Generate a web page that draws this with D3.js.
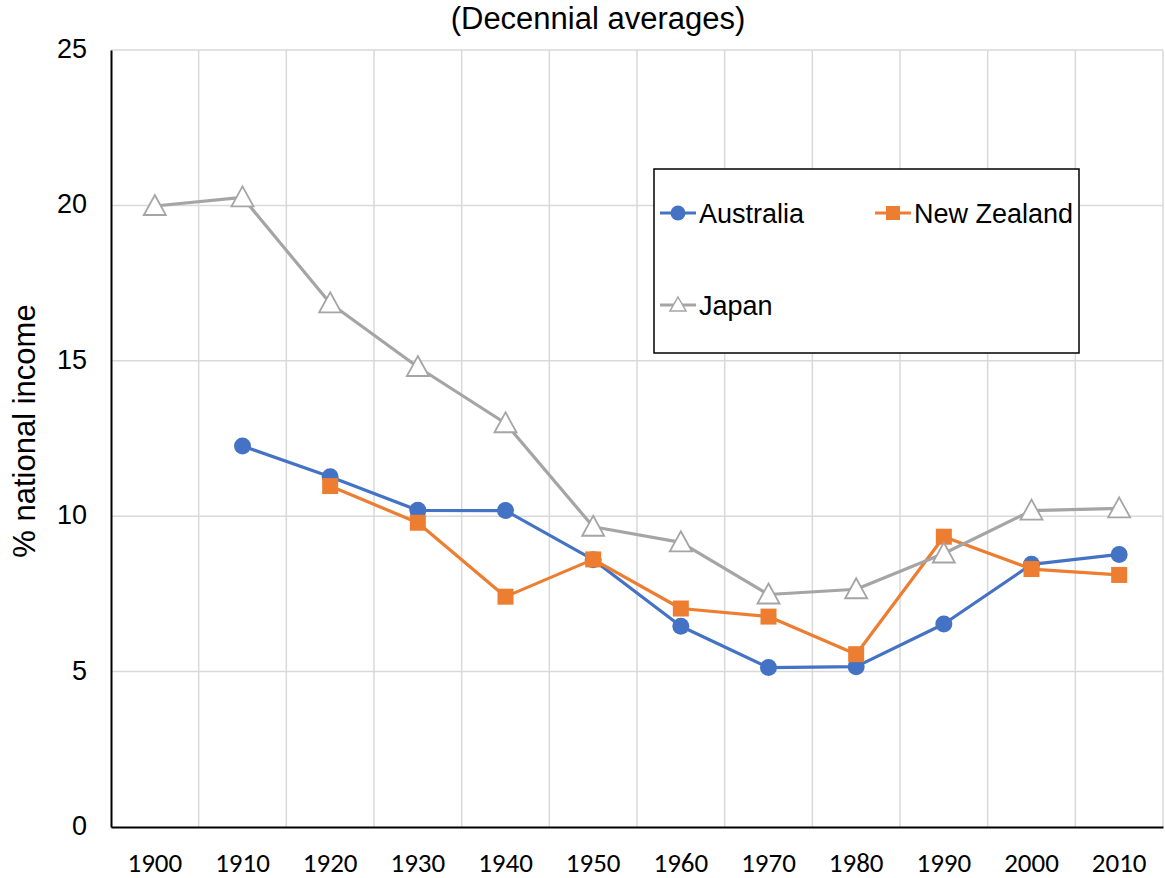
<!DOCTYPE html>
<html>
<head>
<meta charset="utf-8">
<script src="https://cdn.jsdelivr.net/npm/d3@7"></script>
<style>
  html, body { margin: 0; padding: 0; background: #fff; }
  svg { display: block; }
</style>
</head>
<body>
<svg id="chart" width="1165" height="878"></svg>
<script>
const decades = ["1900","1910","1920","1930","1940","1950","1960","1970","1980","1990","2000","2010"];
const australia = [null, 12.26, 11.27, 10.19, 10.18, 8.60, 6.46, 5.13, 5.16, 6.53, 8.45, 8.77];
const newZealand = [null, null, 10.97, 9.79, 7.41, 8.61, 7.03, 6.77, 5.56, 9.34, 8.30, 8.11];
const japan = [19.98, 20.26, 16.85, 14.80, 12.99, 9.66, 9.16, 7.48, 7.65, 8.80, 10.18, 10.25];
const yTicks = [0, 5, 10, 15, 20, 25];
const seriesNames = ["Australia", "New Zealand", "Japan"];

const svg = d3.select("#chart");
const plotLeft = 111, plotRight = 1163, plotTop = 50, plotBottom = 827;

const x = d3.scaleBand().domain(decades).range([plotLeft, plotRight]).paddingInner(0).paddingOuter(0);
const y = d3.scaleLinear().domain([0, 25]).range([plotBottom, plotTop]);

// gridlines
const grid = svg.append("g");
grid.selectAll("line.h").data(yTicks.filter(d => d > 0)).enter().append("line")
  .attr("x1", plotLeft).attr("x2", plotRight)
  .attr("y1", d => y(d)).attr("y2", d => y(d))
  .attr("stroke", "#d9d9d9").attr("stroke-width", 1.5);
grid.selectAll("line.v").data(decades).enter().append("line")
  .attr("x1", d => x(d) + x.bandwidth()).attr("x2", d => x(d) + x.bandwidth())
  .attr("y1", plotTop).attr("y2", plotBottom)
  .attr("stroke", "#d9d9d9").attr("stroke-width", 1.5);

// axes
const yAxis = d3.axisLeft(y).tickValues(yTicks).tickSize(0).tickPadding(24);
const gy = svg.append("g").attr("transform", `translate(${plotLeft},0)`).call(yAxis);
gy.select(".domain").attr("stroke", "#000").attr("stroke-width", 2);
gy.selectAll("text").attr("font-family", "Liberation Sans, Arial, sans-serif")
  .attr("font-size", 27).attr("fill", "#000").attr("dy", "0.28em");

const xAxis = d3.axisBottom(x).tickSize(0).tickPadding(26);
const gx = svg.append("g").attr("transform", `translate(0,${plotBottom})`).call(xAxis);
gx.select(".domain").attr("stroke", "#000").attr("stroke-width", 2);
gx.selectAll("text").attr("font-family", "Carlito, Calibri, Lato, sans-serif")
  .attr("font-size", 27).attr("fill", "#000");

// title
svg.append("text").attr("x", 598).attr("y", 29).attr("text-anchor", "middle")
  .attr("font-family", "Liberation Sans, Arial, sans-serif").attr("font-size", 31)
  .attr("fill", "#000").text("(Decennial averages)");

// y label
svg.append("text").attr("transform", "translate(35,431) rotate(-90)")
  .attr("text-anchor", "middle")
  .attr("font-family", "Liberation Sans, Arial, sans-serif").attr("font-size", 31)
  .attr("fill", "#000").text("% national income");

const cx = d => x(d) + x.bandwidth() / 2;
const line = d3.line().defined(d => d.v != null).x(d => cx(d.k)).y(d => y(d.v));

const triPath = "M0,-11 L11,9 L-11,9 Z";

const series = [
  { name: "Australia", data: australia, color: "#4472C4", marker: "circle" },
  { name: "New Zealand", data: newZealand, color: "#ED7D31", marker: "square" },
  { name: "Japan", data: japan, color: "#A5A5A5", marker: "triangle" }
];

function drawMarker(g, type, color) {
  if (type === "circle") {
    g.append("circle").attr("r", 8.5).attr("fill", color);
  } else if (type === "square") {
    g.append("rect").attr("x", -8).attr("y", -8).attr("width", 16).attr("height", 16).attr("fill", color);
  } else {
    g.append("path").attr("d", triPath).attr("fill", "#fff").attr("stroke", color).attr("stroke-width", 1.8);
  }
}

series.forEach(s => {
  const pts = decades.map((k, i) => ({ k, v: s.data[i] }));
  const g = svg.append("g");
  g.append("path").datum(pts).attr("d", line).attr("fill", "none")
    .attr("stroke", s.color).attr("stroke-width", 3.2).attr("stroke-linejoin", "round");
  pts.filter(p => p.v != null).forEach(p => {
    const mg = g.append("g").attr("transform", `translate(${cx(p.k)},${y(p.v)})`);
    drawMarker(mg, s.marker, s.color);
  });
});

// legend
const lg = svg.append("g");
lg.append("rect").attr("x", 654).attr("y", 169).attr("width", 425).attr("height", 184)
  .attr("fill", "#fff").attr("stroke", "#000").attr("stroke-width", 1.5);
const legendPos = [
  { x: 660, y: 213 },
  { x: 875, y: 213 },
  { x: 660, y: 305 }
];
series.forEach((s, i) => {
  const p = legendPos[i];
  const g = lg.append("g").attr("transform", `translate(${p.x},${p.y})`);
  g.append("line").attr("x1", 0).attr("x2", 36).attr("y1", 0).attr("y2", 0)
    .attr("stroke", s.color).attr("stroke-width", 3.2);
  const mg = g.append("g").attr("transform", "translate(18,0)");
  if (s.marker === "triangle") {
    mg.append("path").attr("d", "M0,-8 L8,6 L-8,6 Z").attr("fill", "#fff").attr("stroke", s.color).attr("stroke-width", 1.5);
  } else if (s.marker === "circle") {
    mg.append("circle").attr("r", 7.5).attr("fill", s.color);
  } else {
    mg.append("rect").attr("x", -7).attr("y", -7).attr("width", 14).attr("height", 14).attr("fill", s.color);
  }
  g.append("text").attr("x", 39).attr("y", 10)
    .attr("font-family", "Liberation Sans, Arial, sans-serif").attr("font-size", 27)
    .attr("fill", "#000").text(seriesNames[i]);
});
</script>
</body>
</html>
